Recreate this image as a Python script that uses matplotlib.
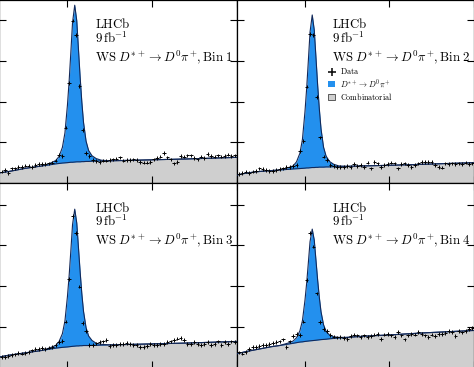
import numpy as np
import matplotlib
matplotlib.use("Agg")
import matplotlib.pyplot as plt
from matplotlib.patches import Patch

plt.rcParams['mathtext.fontset'] = 'cm'
plt.rcParams['font.family'] = ['DejaVu Serif']

# ---------------- data ----------------
bin_centers = np.round(141.1 + 0.2 * np.arange(70), 2)

data_bin1 = [0.28, 0.32, 0.25, 0.36, 0.36, 0.40, 0.40, 0.43, 0.43, 0.40, 0.44, 0.47, 0.47, 0.47, 0.48, 0.50, 0.55,
             0.69, 0.66, 1.36, 2.46, 3.99, 3.64, 2.38, 1.30, 0.74, 0.66, 0.57, 0.54,
             0.52, 0.55, 0.55, 0.57, 0.58, 0.60, 0.63, 0.55, 0.57, 0.57, 0.58, 0.57, 0.52, 0.50, 0.50, 0.52,
             0.58, 0.61, 0.65, 0.73, 0.63, 0.58, 0.48, 0.52, 0.66, 0.65, 0.68, 0.68, 0.61, 0.58, 0.65, 0.61,
             0.71, 0.66, 0.65, 0.68, 0.65, 0.66, 0.70, 0.66, 0.68]
data_bin2 = [0.22, 0.25, 0.28, 0.25, 0.28, 0.30, 0.36, 0.34, 0.32, 0.30, 0.29, 0.32, 0.34, 0.36, 0.40, 0.40, 0.42,
             0.44, 0.79, 1.04, 2.37, 3.66, 3.64, 2.11, 1.12, 0.65, 0.57,
             0.44, 0.42, 0.39, 0.40, 0.39, 0.42, 0.40, 0.46, 0.42, 0.44, 0.40, 0.50, 0.36, 0.52, 0.48, 0.40,
             0.44, 0.46, 0.50, 0.48, 0.36, 0.46, 0.48, 0.44, 0.40, 0.44, 0.48, 0.52, 0.52, 0.52, 0.52, 0.44,
             0.40, 0.38, 0.48, 0.46, 0.48, 0.46, 0.48, 0.47, 0.50, 0.46, 0.48]
data_bin3 = [0.26, 0.26, 0.28, 0.30, 0.32, 0.35, 0.34, 0.36, 0.38, 0.42, 0.45, 0.46, 0.48, 0.46, 0.49, 0.50,
             0.55, 0.62, 0.65, 1.13, 2.17, 3.73, 3.30, 1.99, 1.09, 0.90, 0.55, 0.55, 0.59, 0.62,
             0.64, 0.67, 0.53, 0.55, 0.56, 0.57, 0.58, 0.61, 0.58, 0.56, 0.55, 0.50, 0.50, 0.53, 0.58, 0.56,
             0.55, 0.57, 0.58, 0.63, 0.64, 0.67, 0.71, 0.72, 0.67, 0.58, 0.58, 0.63, 0.58, 0.55, 0.58, 0.63,
             0.55, 0.58, 0.64, 0.55, 0.62, 0.58, 0.64, 0.62]
data_bin4 = [0.37, 0.34, 0.38, 0.46, 0.50, 0.50, 0.53, 0.55, 0.55, 0.57, 0.60, 0.62, 0.64, 0.69, 0.50, 0.64, 0.77,
             0.83, 0.80, 1.13, 2.15, 3.30, 2.97, 1.82, 1.11, 0.95, 0.90, 0.80, 0.76,
             0.74, 0.75, 0.72, 0.70, 0.77, 0.81, 0.79, 0.75, 0.79, 0.75, 0.77, 0.81, 0.83, 0.70, 0.81, 0.83,
             0.79, 0.75, 0.87, 0.79, 0.69, 0.79, 0.83, 0.81, 0.87, 0.83, 0.79, 0.75, 0.81, 0.77, 0.83, 0.83,
             0.85, 0.89, 0.87, 0.77, 0.89, 0.86, 0.90, 0.95, 0.97]

fit_x = [141.0, 141.5, 142.0, 142.5, 143.0, 143.5, 144.0, 144.3, 144.5, 144.7, 144.85, 145.0, 145.1, 145.2,
         145.3, 145.43, 145.55, 145.65, 145.75, 145.85, 145.95, 146.1, 146.25, 146.45, 146.7, 147.0, 147.5,
         148.0, 149.0, 150.0, 152.0, 155.0]

bkg_bin1 = [.25, .28, .32, .36, .39, .42, .45, .47, .48, .49, .495, .50, .505, .51, .51, .515, .52, .52, .52,
            .525, .525, .53, .53, .535, .54, .54, .545, .55, .56, .57, .59, .63]
tot_bin1 = [.25, .28, .32, .36, .39, .42, .49, .55, .65, .875, 1.23, 1.92, 2.51, 3.21, 3.94, 4.37, 3.99, 3.29,
            2.60, 1.99, 1.49, 1.03, .80, .67, .60, .56, .545, .55, .56, .57, .59, .63]
bkg_bin2 = [.20, .24, .27, .29, .305, .32, .335, .345, .35, .355, .36, .365, .37, .37, .375, .38, .38, .385,
            .385, .39, .39, .39, .395, .395, .40, .40, .41, .415, .425, .435, .46, .50]
tot_bin2 = [.20, .24, .27, .29, .305, .32, .375, .42, .52, .73, 1.07, 1.75, 2.32, 3.0, 3.71, 4.13, 3.76, 3.09,
            2.41, 1.82, 1.33, .88, .66, .53, .46, .42, .41, .415, .425, .435, .46, .50]
bkg_bin3 = [.26, .30, .33, .36, .39, .42, .455, .475, .485, .495, .50, .505, .51, .515, .52, .525, .53, .53,
            .535, .535, .54, .54, .54, .545, .545, .55, .555, .56, .57, .58, .60, .64]
tot_bin3 = [.26, .30, .33, .36, .39, .42, .49, .54, .635, .83, 1.14, 1.75, 2.26, 2.87, 3.51, 3.89, 3.55, 2.95,
            2.35, 1.81, 1.38, .98, .775, .665, .595, .57, .555, .56, .57, .58, .60, .64]
bkg_bin4 = [.34, .39, .43, .47, .51, .54, .575, .595, .61, .625, .63, .64, .645, .65, .655, .66, .665, .67,
            .675, .68, .685, .69, .695, .705, .715, .725, .74, .755, .78, .80, .85, .91]
tot_bin4 = [.34, .39, .43, .47, .51, .54, .60, .65, .73, .90, 1.15, 1.65, 2.07, 2.57, 3.09, 3.40, 3.13, 2.64,
            2.15, 1.72, 1.37, 1.05, .885, .80, .755, .74, .74, .755, .78, .80, .85, .91]

bin_labels = ["Bin 1", "Bin 2", "Bin 3", "Bin 4"]
x_ticks = [145, 150, 155]
y_ticks = [1, 2, 3, 4]

# ---------------- style ----------------
SIG = '#2390ee'
BKG = '#cfcfcf'
LINE = '#12295a'

W, H = 474.0, 367.0
fig = plt.figure(figsize=(4.74, 3.67), dpi=100)

def px_axes(x0, top, w, h):
    return fig.add_axes([x0 / W, (H - top - h) / H, w / W, h / H])

panels = [
    (-1.0, -0.5, 237.5, 183.5, (0, 4.51)),
    (236.5, -0.5, 237.5, 183.5, (0, 4.51)),
    (-1.0, 183.0, 237.5, 184.5, (0, 4.533)),
    (236.5, 183.0, 237.5, 184.5, (0, 4.533)),
]
datas = [data_bin1, data_bin2, data_bin3, data_bin4]
bkgs = [bkg_bin1, bkg_bin2, bkg_bin3, bkg_bin4]
tots = [tot_bin1, tot_bin2, tot_bin3, tot_bin4]

for i, (x0, top, w, h, yl) in enumerate(panels):
    ax = px_axes(x0, top, w, h)
    ax.fill_between(fit_x, -1, bkgs[i], color=BKG, lw=0, zorder=1)
    ax.fill_between(fit_x, bkgs[i], tots[i], color=SIG, lw=0, zorder=2)
    ax.plot(fit_x, bkgs[i], color=LINE, lw=0.8, zorder=3)
    ax.plot(fit_x, tots[i], color=LINE, lw=0.8, zorder=3)
    eb = ax.errorbar(bin_centers, datas[i], xerr=0.1, yerr=0.045, fmt='none', ecolor='black',
                     elinewidth=0.7, capsize=0, zorder=4)
    ax.set_xlim(140.95, 154.92)
    ax.set_ylim(*yl)
    ax.set_xticks(x_ticks)
    ax.set_yticks(y_ticks)
    ax.tick_params(direction='in', length=5, width=0.8, top=True, right=True,
                   labelbottom=False, labelleft=False)
    for s in ax.spines.values():
        s.set_linewidth(0.9)
    fs = 9.2
    ax.text(0.404, 0.842, r'$\mathrm{LHCb}$', transform=ax.transAxes, fontsize=fs, va='baseline')
    ax.text(0.404, 0.765, r'$9\,\mathrm{fb}^{-1}$', transform=ax.transAxes, fontsize=fs, va='baseline')
    ax.text(0.404, 0.665, r'$\mathrm{WS}\ D^{*+} \to D^{0}\pi^{+}, \mathrm{%s}$' % bin_labels[i].replace(' ', r'\ '),
            transform=ax.transAxes, fontsize=fs, va='baseline')
    if i == 1:
        data_handle = ax.errorbar([], [], xerr=[], yerr=[], fmt='none', ecolor='black',
                                  elinewidth=1.1, capsize=0)
        handles = [data_handle, Patch(facecolor=SIG, edgecolor='none'),
                   Patch(facecolor=BKG, edgecolor='#444444', lw=0.6)]
        labels = [r'$\mathrm{Data}$', r'$D^{*+} \to D^{0}\pi^{+}$', r'$\mathrm{Combinatorial}$']
        ax.legend(handles, labels, loc='upper left', bbox_to_anchor=(0.385, 0.635), frameon=False,
                  fontsize=5.8, handlelength=0.9, handleheight=0.8, handletextpad=0.6,
                  labelspacing=0.12, borderpad=0, borderaxespad=0)

fig.savefig('out.png', dpi=100)
